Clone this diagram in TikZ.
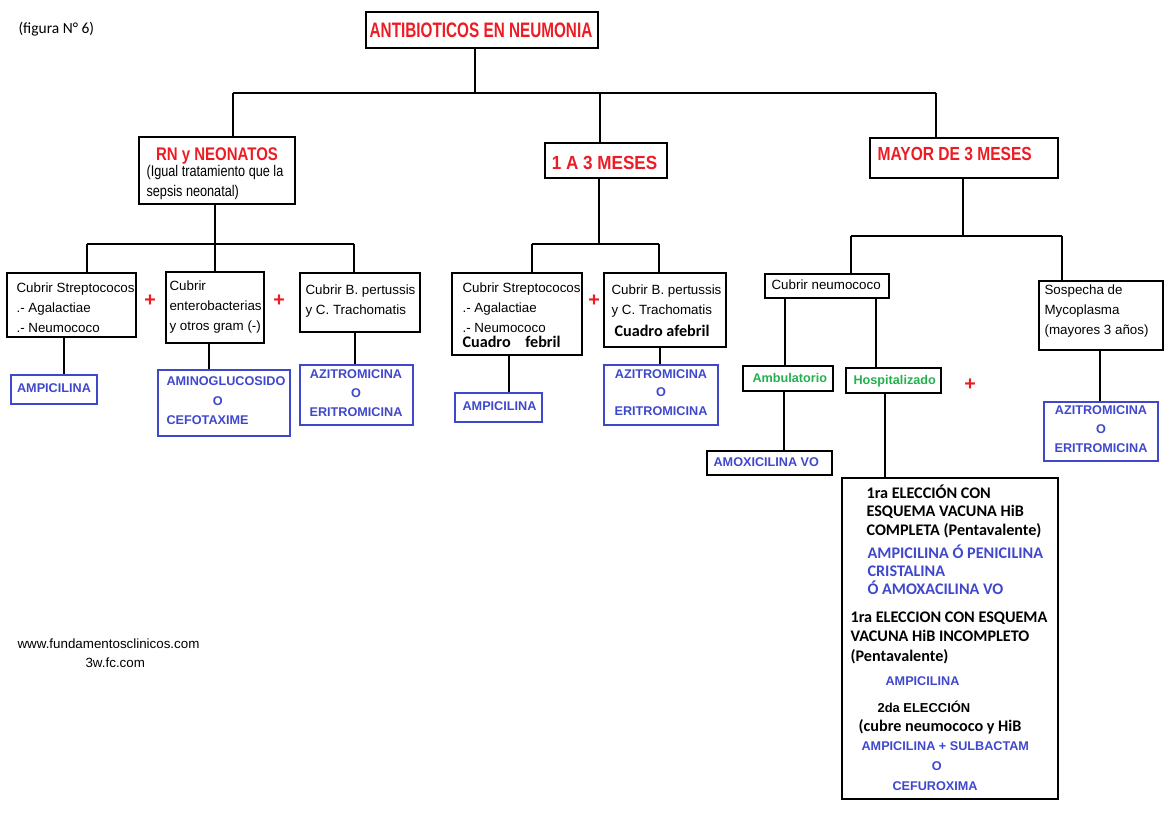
\documentclass[tikz,border=0pt]{standalone}
\usepackage{fontspec}
\setmainfont{Liberation Sans}
\newfontfamily\estrecha[FakeStretch=0.82]{Liberation Sans}
\newfontfamily\angosta[FakeStretch=0.73]{Liberation Sans}
\newfontfamily\ancha[FakeStretch=0.9]{Liberation Sans}
\newfontfamily\calibri{Carlito}
\usetikzlibrary{fit}
\definecolor{rojo}{RGB}{237,28,36}
\definecolor{azul}{RGB}{63,72,204}
\definecolor{verde}{RGB}{34,177,76}
\newcommand{\filas}[1]{\begin{tabular}[t]{@{}l@{}}#1\end{tabular}}
\newcommand{\centradas}[1]{\begin{tabular}[t]{@{}c@{}}#1\end{tabular}}

\begin{document}
\begin{tikzpicture}[x=0.025cm, y=-0.025cm, line width=0.8pt,
    caja/.style={draw, line width=0.8pt, inner sep=0pt},
    cajaazul/.style={caja, draw=azul},
    texto/.style={inner sep=0pt, anchor=base west, font=\fontsize{9.5}{14.2}\selectfont},
    titular/.style={text=rojo, inner sep=0pt, anchor=base},
    farmaco/.style={text=azul, inner sep=0pt, anchor=base, font=\bfseries\fontsize{9}{13.5}\selectfont},
    lugar/.style={text=verde, inner sep=0pt, anchor=base west, font=\bfseries\fontsize{9}{10}\selectfont},
    negrita/.style={inner sep=0pt, anchor=base west, font=\calibri\bfseries\fontsize{11.5}{13.5}\selectfont},
    mas/.style={text=rojo, inner sep=0pt, font=\bfseries\fontsize{14}{14}\selectfont}]
    \useasboundingbox (0,0) rectangle (1174,826);

    \node[anchor=base west, inner sep=0pt, font=\calibri\fontsize{11}{13}\selectfont] (figura) at (18,34) {(figura N° 6)};
    \node[caja, fit={(366,12) (598,48)}] (titulo) {};
    \node[titular, font=\angosta\bfseries\fontsize{14.9}{15}\selectfont] (titulo-t) at (481,37.5) {ANTIBIOTICOS EN NEUMONIA};

    % grupos de edad
    \node[caja, fit={(139,137) (295,204)}] (rn) {};
    \node[titular, font=\estrecha\bfseries\fontsize{13}{13}\selectfont] (rn-t) at (217,160.5) {RN y NEONATOS};
    \node[texto, font=\estrecha\fontsize{11}{14.2}\selectfont] (rn-n) at (146,177) {\filas{(Igual tratamiento que la\\sepsis neonatal)}};
    \node[caja, fit={(545,143) (667,178)}] (unotres) {};
    \node[titular, font=\ancha\bfseries\fontsize{13.5}{13.5}\selectfont] (unotres-t) at (604.5,169.5) {1 A 3 MESES};
    \node[caja, fit={(870,138) (1058,178)}] (mayor) {};
    \node[titular, anchor=base west, font=\estrecha\bfseries\fontsize{13.5}{13.5}\selectfont] (mayor-t) at (877,161) {MAYOR DE 3 MESES};

    \coordinate (raiz) at (475,93);
    \coordinate (j-rn) at (233,93);
    \coordinate (j-13) at (600,93);
    \coordinate (j-mayor) at (936,93);
    \draw (raiz |- titulo.south) -- (raiz);
    \draw (j-rn) -- (j-mayor);
    \draw (j-rn) -- (j-rn |- rn.north);
    \draw (j-13) -- (j-13 |- unotres.north);
    \draw (j-mayor) -- (j-mayor |- mayor.north);

    % RN y neonatos
    \node[caja, fit={(7,273) (136,337)}] (strepa) {};
    \node[texto] (strepa-t) at (16,292.5) {\filas{Cubrir Streptococos\\.- Agalactiae\\.- Neumococo}};
    \node[mas] (mas1) at (150,301) {+};
    \node[caja, fit={(166,272) (264,343)}] (entero) {};
    \node[texto] (entero-t) at (169,290.5) {\filas{Cubrir\\enterobacterias\\y otros gram (-)}};
    \node[mas] (mas2) at (279,301) {+};
    \node[caja, fit={(300,273) (420,332)}] (pertua) {};
    \node[texto] (pertua-t) at (305,294.5) {\filas{Cubrir B. pertussis\\y C. Trachomatis}};

    \node[cajaazul, fit={(11,375) (97,404)}] (ampa) {};
    \node[farmaco] (ampa-t) at (54,392.5) {AMPICILINA};
    \node[cajaazul, fit={(158,370) (290,436)}] (amino) {};
    \node[farmaco, anchor=base west, font=\bfseries\fontsize{9}{13.9}\selectfont] (amino-t) at (166,385.5) {\filas{AMINOGLUCOSIDO\\\hspace*{33pt}O\\CEFOTAXIME}};
    \node[cajaazul, fit={(300,365) (413,425)}] (azia) {};
    \node[farmaco] (azia-t) at (356,378.5) {\centradas{AZITROMICINA\\O\\ERITROMICINA}};

    \coordinate (r-a) at (87,244);
    \coordinate (r-b) at (215,244);
    \coordinate (r-c) at (354,244);
    \draw (r-b |- rn.south) -- (r-b);
    \draw (r-a) -- (r-c);
    \draw (r-a) -- (r-a |- strepa.north);
    \draw (r-b) -- (r-b |- entero.north);
    \draw (r-c) -- (r-c |- pertua.north);
    \draw (64,0 |- strepa.south) -- (64,0 |- ampa.north);
    \draw (209,0 |- entero.south) -- (209,0 |- amino.north);
    \draw (355,0 |- pertua.south) -- (355,0 |- azia.north);

    % 1 a 3 meses
    \node[caja, fit={(452,273) (582,355)}] (strepb) {};
    \node[texto] (strepb-t) at (462,292.5) {\filas{Cubrir Streptococos\\.- Agalactiae\\.- Neumococo}};
    \node[negrita] (febril) at (462,347.5) {Cuadro\hspace{0.9em}febril};
    \node[mas] (mas3) at (594,301) {+};
    \node[caja, fit={(604,273) (726,347)}] (pertub) {};
    \node[texto] (pertub-t) at (611,294.5) {\filas{Cubrir B. pertussis\\y C. Trachomatis}};
    \node[negrita] (afebril) at (614,336) {Cuadro afebril};
    \node[cajaazul, fit={(455,393) (542,422)}] (ampb) {};
    \node[farmaco] (ampb-t) at (499.5,410) {AMPICILINA};
    \node[cajaazul, fit={(604,365) (718,425)}] (azib) {};
    \node[farmaco] (azib-t) at (661,378) {\centradas{AZITROMICINA\\O\\ERITROMICINA}};

    \coordinate (u-a) at (532,244);
    \coordinate (u-b) at (599,244);
    \coordinate (u-c) at (659,244);
    \draw (u-b |- unotres.south) -- (u-b);
    \draw (u-a) -- (u-c);
    \draw (u-a) -- (u-a |- strepb.north);
    \draw (u-c) -- (u-c |- pertub.north);
    \draw (509,0 |- strepb.south) -- (509,0 |- ampb.north);
    \draw (660,0 |- pertub.south) -- (660,0 |- azib.north);

    % mayor de 3 meses
    \node[caja, fit={(765,274) (889,298)}] (neumo) {};
    \node[texto] (neumo-t) at (771,289.5) {Cubrir neumococo};
    \node[caja, fit={(1039,281) (1163,350)}] (myco) {};
    \node[texto] (myco-t) at (1044,294.5) {\filas{Sospecha de\\Mycoplasma\\(mayores 3 años)}};
    \node[caja, fit={(743,366) (833,391)}] (ambu) {};
    \node[lugar] (ambu-t) at (752,382.5) {Ambulatorio};
    \node[caja, fit={(846,368) (941,393)}] (hosp) {};
    \node[lugar] (hosp-t) at (853,384.5) {Hospitalizado};
    \node[mas] (mas4) at (970,385) {+};
    \node[caja, fit={(707,451) (832,475)}] (amox) {};
    \node[farmaco, anchor=base west] (amox-t) at (713,466.5) {AMOXICILINA VO};
    \node[cajaazul, fit={(1044,402) (1158,461)}] (azic) {};
    \node[farmaco] (azic-t) at (1101,414.5) {\centradas{AZITROMICINA\\O\\ERITROMICINA}};

    \node[caja, fit={(842,478) (1058,799)}] (eleccion) {};
    \node[negrita] (completa) at (866,498) {\filas{1ra ELECCIÓN CON\\ESQUEMA VACUNA HiB\\COMPLETA (Pentavalente)}};
    \node[negrita, text=azul, font=\calibri\bfseries\fontsize{11.5}{12.8}\selectfont] (primera) at (867,558) {\filas{AMPICILINA Ó PENICILINA\\CRISTALINA\\Ó AMOXACILINA VO}};
    \node[negrita, font=\calibri\bfseries\fontsize{11.5}{13.9}\selectfont] (incompleta) at (850,622) {\filas{1ra ELECCION CON ESQUEMA\\VACUNA HiB INCOMPLETO\\(Pentavalente)}};
    \node[farmaco, anchor=base west] (ampc) at (885,685.5) {AMPICILINA};
    \node[anchor=base west, inner sep=0pt, font=\bfseries\fontsize{9.2}{11}\selectfont] (segunda) at (877,712) {2da ELECCIÓN};
    \node[negrita] (cubre) at (858,731) {(cubre neumococo y HiB};
    \node[farmaco, anchor=base west, font=\bfseries\fontsize{9}{14.2}\selectfont] (sulba) at (861,750.5) {\filas{AMPICILINA + SULBACTAM\\\hspace*{50pt}O\\\hspace*{22pt}CEFUROXIMA}};

    \coordinate (m-a) at (851,236);
    \coordinate (m-b) at (963,236);
    \coordinate (m-c) at (1062,236);
    \draw (m-b |- mayor.south) -- (m-b);
    \draw (m-a) -- (m-c);
    \draw (m-a) -- (m-a |- neumo.north);
    \draw (m-c) -- (m-c |- myco.north);
    \draw (785,0 |- neumo.south) -- (785,0 |- ambu.north);
    \draw (876,0 |- neumo.south) -- (876,0 |- hosp.north);
    \draw (784,0 |- ambu.south) -- (784,0 |- amox.north);
    \draw (885,0 |- hosp.south) -- (885,0 |- eleccion.north);
    \draw (1100,0 |- myco.south) -- (1100,0 |- azic.north);

    \node[texto] (web) at (17,648) {www.fundamentosclinicos.com};
    \node[texto] (web2) at (85,667.5) {3w.fc.com};
\end{tikzpicture}
\end{document}
